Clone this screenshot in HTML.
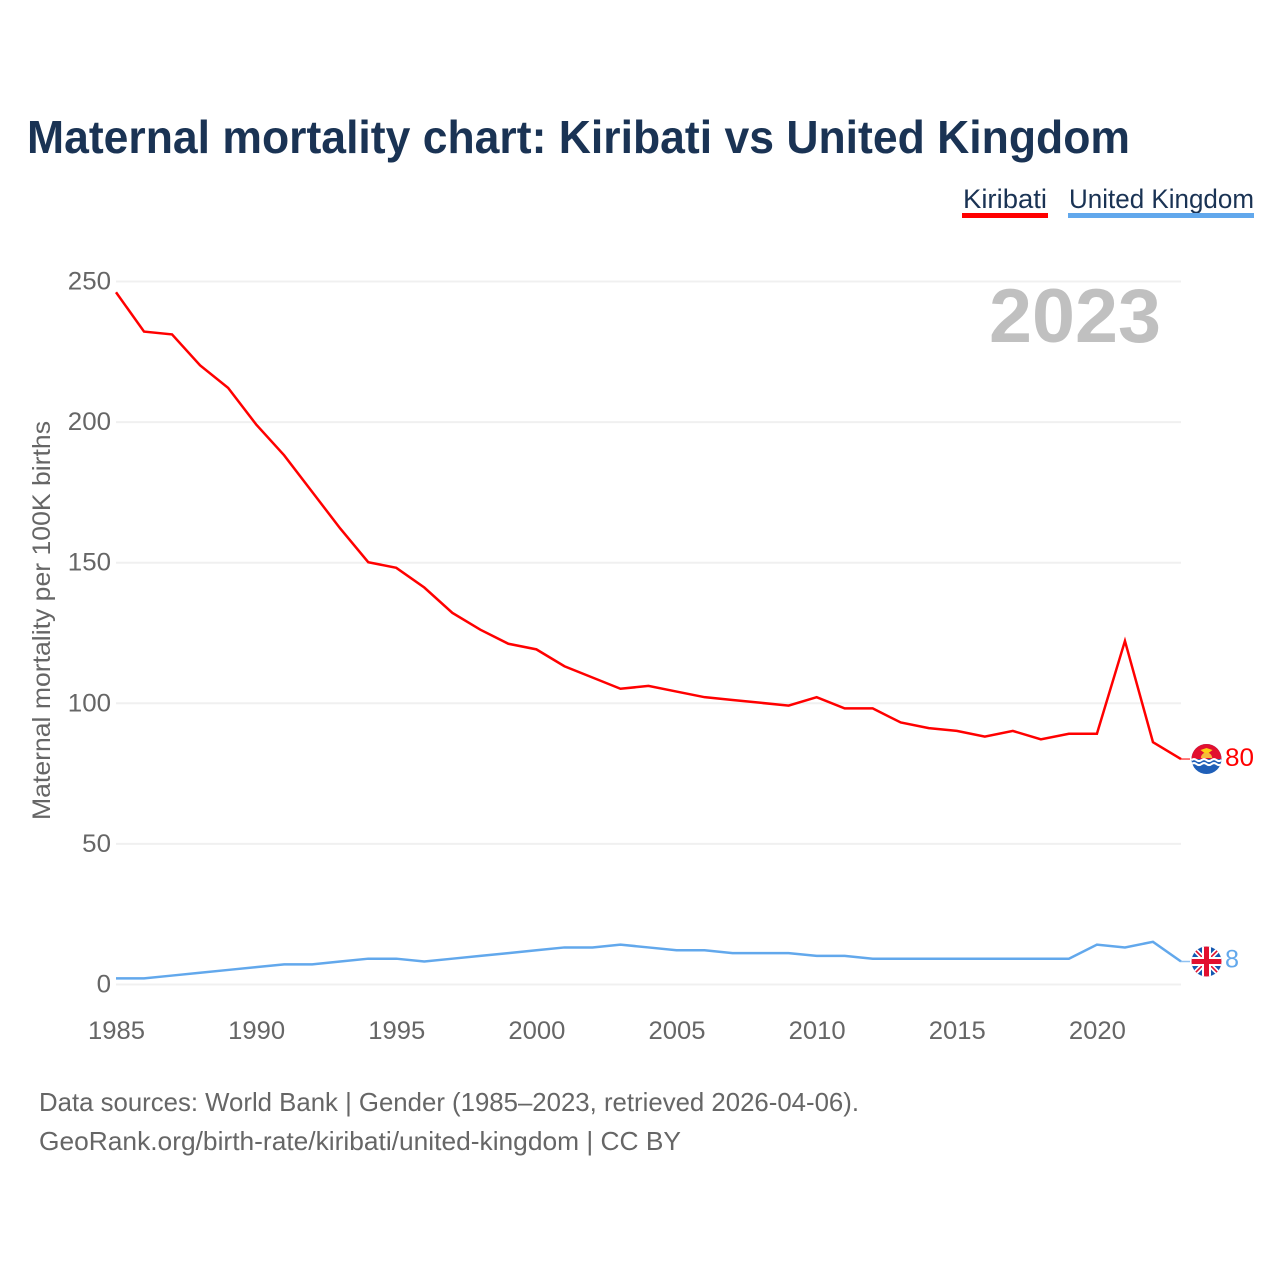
<!DOCTYPE html>
<html lang="en">
<head>
<meta charset="utf-8">
<title>Maternal mortality chart: Kiribati vs United Kingdom</title>
<style>
html,body{margin:0;padding:0;background:#fff;}
svg{display:block;}
text{font-family:"Liberation Sans",sans-serif;}
</style>
</head>
<body>
<svg id="chart" xmlns="http://www.w3.org/2000/svg" width="1280" height="1280" viewBox="0 0 1280 1280">
  <defs>
    <clipPath id="flag-clip"><circle cx="0" cy="0" r="15"></circle></clipPath>
  </defs>
  <rect x="0" y="0" width="1280" height="1280" fill="#ffffff"></rect>
  <text x="27" y="153" font-size="46" font-weight="700" fill="#1a3354" textLength="1103" lengthAdjust="spacingAndGlyphs">Maternal mortality chart: Kiribati vs United Kingdom</text>

  <g>
    <text x="963" y="208" font-size="27" fill="#1a3354" textLength="84" lengthAdjust="spacingAndGlyphs">Kiribati</text>
    <rect x="962" y="213" width="86" height="5" fill="#ff0000"></rect>
  </g>
  <g>
    <text x="1069" y="208" font-size="27" fill="#1a3354" textLength="185" lengthAdjust="spacingAndGlyphs">United Kingdom</text>
    <rect x="1068" y="213" width="186" height="5" fill="#62a8ec"></rect>
  </g>

  <g id="grid"></g>
  <g id="y-ticks"></g>
  <g id="x-ticks"></g>

  <text x="989" y="342" font-size="76" font-weight="700" fill="#c0c0c0" textLength="172" lengthAdjust="spacingAndGlyphs">2023</text>

  <text transform="translate(50,820) rotate(-90)" x="0" y="0" font-size="25" fill="#666666" textLength="399" lengthAdjust="spacingAndGlyphs">Maternal mortality per 100K births</text>

  <g id="series"></g>

  <g id="flag-kiribati">
    <g clip-path="url(#flag-clip)">
      <rect x="-15" y="-15" width="30" height="30" fill="#1f5fb8"></rect>
      <rect x="-15" y="-15" width="30" height="15" fill="#e2102f"></rect>
      <path d="M-7 0 A7 7 0 0 1 7 0 Z" fill="#f6b93b" transform="translate(0,-1) scale(0.8)"></path>
      <path d="M-6 -9 L0 -11 L6 -9 L2 -6 L-2 -6 Z" fill="#fcd116"></path>
      <path d="M-15 1 q2.5 -2 5 0 t5 0 t5 0 t5 0 t5 0 t5 0" fill="none" stroke="#ffffff" stroke-width="2"></path>
      <path d="M-15 5 q2.5 -2 5 0 t5 0 t5 0 t5 0 t5 0 t5 0" fill="none" stroke="#ffffff" stroke-width="2"></path>
    </g>
  </g>
  <g id="flag-uk">
    <g clip-path="url(#flag-clip)">
      <rect x="-15" y="-15" width="30" height="30" fill="#1457b0"></rect>
      <path d="M-15 -15 L15 15 M15 -15 L-15 15" stroke="#ffffff" stroke-width="5"></path>
      <path d="M-15 -15 L15 15 M15 -15 L-15 15" stroke="#e2102f" stroke-width="1.6"></path>
      <rect x="-15" y="-4.5" width="30" height="9" fill="#ffffff"></rect>
      <rect x="-4.5" y="-15" width="9" height="30" fill="#ffffff"></rect>
      <rect x="-15" y="-2.5" width="30" height="5" fill="#e2102f"></rect>
      <rect x="-2.5" y="-15" width="5" height="30" fill="#e2102f"></rect>
    </g>
  </g>

  <text id="value-kiribati" x="1225" font-size="25" fill="#ff0000" textLength="29" lengthAdjust="spacingAndGlyphs"></text>
  <text id="value-uk" x="1225" font-size="25" fill="#62a8ec" textLength="14" lengthAdjust="spacingAndGlyphs"></text>

  <text x="39" y="1111" font-size="26" fill="#666666" textLength="820" lengthAdjust="spacingAndGlyphs">Data sources: World Bank | Gender (1985–2023, retrieved 2026-04-06).</text>
  <text x="39" y="1150" font-size="26" fill="#666666" textLength="642" lengthAdjust="spacingAndGlyphs">GeoRank.org/birth-rate/kiribati/united-kingdom | CC BY</text>
</svg>
<script>
const years = [1985,1986,1987,1988,1989,1990,1991,1992,1993,1994,1995,1996,1997,1998,1999,2000,2001,2002,2003,2004,2005,2006,2007,2008,2009,2010,2011,2012,2013,2014,2015,2016,2017,2018,2019,2020,2021,2022,2023];
const kiribatiValues = [246,232,231,220,212,199,188,175,162,150,148,141,132,126,121,119,113,109,105,106,104,102,101,100,99,102,98,98,93,91,90,88,90,87,89,89,122,86,80];
const ukValues = [2,2,3,4,5,6,7,7,8,9,9,8,9,10,11,12,13,13,14,13,12,12,11,11,11,10,10,9,9,9,9,9,9,9,9,14,13,15,8];
const yTickValues = [0,50,100,150,200,250];
const xTickValues = [1985,1990,1995,2000,2005,2010,2015,2020];

const NS = 'http://www.w3.org/2000/svg';
function xScale(year) { return 116 + (year - 1985) * (1181 - 116) / 38; }
function yScale(value) { return 984 - value * (984 - 281) / 250; }
function make(tag, attrs, parent) {
  const el = document.createElementNS(NS, tag);
  for (const k in attrs) el.setAttribute(k, attrs[k]);
  parent.appendChild(el);
  return el;
}

const grid = document.getElementById('grid');
const yTicks = document.getElementById('y-ticks');
const xTicks = document.getElementById('x-ticks');
const series = document.getElementById('series');

yTickValues.forEach(function (v) {
  const line = make('line', {x1: 116, x2: 1181, y1: yScale(v) + 0.5, y2: yScale(v) + 0.5, stroke: '#f0f0f0', 'stroke-width': 2}, grid);
  
  
  const label = make('text', {x: 111, y: yScale(v) + 8.5, 'text-anchor': 'end', 'font-size': 25, fill: '#666666', textLength: String(v).length * 14.4, lengthAdjust: 'spacingAndGlyphs'}, yTicks);
  
  
  label.textContent = v;
});

xTickValues.forEach(function (y) {
  const label = make('text', {x: xScale(y) + 0.5, y: 1039, 'text-anchor': 'middle', 'font-size': 25, fill: '#666666', textLength: 57, lengthAdjust: 'spacingAndGlyphs'}, xTicks);
  
  
  label.textContent = y;
});

function drawSeries(values, color, name) {
  const pts = values.map(function (v, i) { return xScale(years[i]).toFixed(2) + ',' + yScale(v).toFixed(2); }).join(' ');
  const line = make('polyline', {points: pts, fill: 'none', stroke: color, 'stroke-width': 2.5, 'stroke-linejoin': 'miter'}, series);
  
  
  const lastY = yScale(values[values.length - 1]);
  const connector = make('line', {x1: 1181, x2: 1190, y1: lastY, y2: lastY, stroke: color, 'stroke-width': 1.5, opacity: 0.7}, series);
  
  
  return lastY;
}

const kY = drawSeries(kiribatiValues, '#ff0000', 'line-kiribati');
const uY = drawSeries(ukValues, '#62a8ec', 'line-united-kingdom');

document.getElementById('flag-kiribati').setAttribute('transform', 'translate(1206.5,' + kY + ')');
document.getElementById('flag-uk').setAttribute('transform', 'translate(1206.5,' + uY + ')');

const vk = document.getElementById('value-kiribati');
vk.setAttribute('y', kY + 7);
vk.textContent = kiribatiValues[kiribatiValues.length - 1];
const vu = document.getElementById('value-uk');
vu.setAttribute('y', uY + 6);
vu.textContent = ukValues[ukValues.length - 1];
</script>
</body>
</html>
